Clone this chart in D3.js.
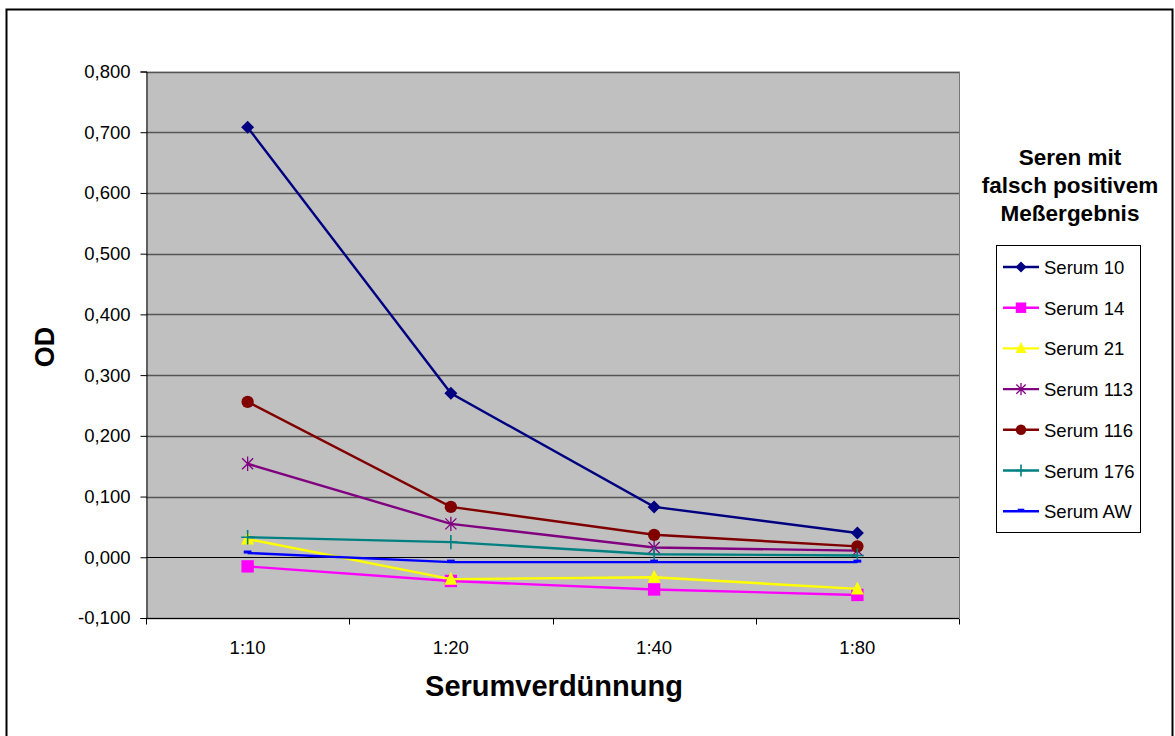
<!DOCTYPE html>
<html>
<head>
<meta charset="utf-8">
<script src="https://cdn.jsdelivr.net/npm/d3@7"></script>
<style>
  body { margin: 0; background: #fff; }
  svg { display: block; font-family: Arial, "Liberation Sans", sans-serif; }
</style>
</head>
<body>
<svg id="chart" width="1175" height="736"></svg>
<script>
// chart data
const dilutions = ["1:10", "1:20", "1:40", "1:80"];
const seriesNames = ["Serum 10", "Serum 14", "Serum 21", "Serum 113", "Serum 116", "Serum 176", "Serum AW"];
const serum10 = [0.708, 0.270, 0.083, 0.040];
const serum14 = [-0.015, -0.039, -0.053, -0.062];
const serum21 = [0.030, -0.036, -0.033, -0.052];
const serum113 = [0.154, 0.055, 0.016, 0.011];
const serum116 = [0.256, 0.083, 0.037, 0.018];
const serum176 = [0.033, 0.025, 0.005, 0.003];
const serumAW = [0.007, -0.008, -0.008, -0.008];
const yTicks = [-0.1, 0, 0.1, 0.2, 0.3, 0.4, 0.5, 0.6, 0.7, 0.8];

const colors = ["#000080", "#FF00FF", "#FFFF00", "#800080", "#800000", "#008080", "#0000FF"];
const shapes = ["diamond", "square", "triangle", "asterisk", "circle", "plus", "dash"];
const allValues = [serum10, serum14, serum21, serum113, serum116, serum176, serumAW];

const series = seriesNames.map((name, i) => ({
    name: name,
    color: colors[i],
    shape: shapes[i],
    values: allValues[i]
}));

const svg = d3.select("#chart");

// outer frame
svg.append("rect")
    .attr("x", 6.5).attr("y", 9.5)
    .attr("width", 1166).attr("height", 740)
    .attr("fill", "none")
    .attr("stroke", "#000")
    .attr("stroke-width", 2);

const plot = { left: 146, right: 959, top: 71.5, bottom: 618 };

const x = d3.scaleBand()
    .domain(dilutions)
    .range([plot.left, plot.right]);

const y = d3.scaleLinear()
    .domain([-0.1, 0.8])
    .range([plot.bottom, plot.top]);

// plot background
svg.append("rect")
    .attr("x", plot.left).attr("y", plot.top)
    .attr("width", plot.right - plot.left)
    .attr("height", plot.bottom - plot.top)
    .attr("fill", "#C0C0C0");

// gridlines
svg.append("g")
    .selectAll("line")
    .data(yTicks)
    .enter()
    .append("line")
    .attr("x1", plot.left).attr("x2", plot.right)
    .attr("y1", d => Math.round(y(d)) + 0.5)
    .attr("y2", d => Math.round(y(d)) + 0.5)
    .attr("stroke", d => d === 0 ? "#000" : "#555")
    .attr("stroke-width", d => d === 0 ? 1 : 1.5);

// right border of plot area
svg.append("line")
    .attr("x1", plot.right + 0.5).attr("x2", plot.right + 0.5)
    .attr("y1", plot.top).attr("y2", plot.bottom)
    .attr("stroke", "#777");

const fmt = d => d3.format(".3f")(d).replace(".", ",").replace("−", "-");

// y axis
const yAxis = svg.append("g")
    .attr("transform", `translate(${plot.left + 0.5},0)`)
    .call(d3.axisLeft(y).tickValues(yTicks).tickFormat(fmt).tickSize(6).tickPadding(10));
yAxis.select(".domain").attr("stroke", "#000");
yAxis.selectAll("text").attr("font-size", 18.5).attr("fill", "#000")
    .attr("font-family", "Arial, 'Liberation Sans', sans-serif");

// x axis (ticks between categories)
const xAxis = svg.append("g")
    .attr("transform", `translate(0,${plot.bottom + 0.5})`);
xAxis.append("line")
    .attr("x1", plot.left).attr("x2", plot.right)
    .attr("stroke", "#000");
xAxis.selectAll(".tick")
    .data(dilutions.concat(["end"]))
    .enter()
    .append("line")
    .attr("x1", (d, i) => Math.round(plot.left + i * x.bandwidth()) + 0.5)
    .attr("x2", (d, i) => Math.round(plot.left + i * x.bandwidth()) + 0.5)
    .attr("y1", 0).attr("y2", 6)
    .attr("stroke", "#000");
xAxis.selectAll(".lbl")
    .data(dilutions)
    .enter()
    .append("text")
    .attr("x", d => x(d) + x.bandwidth() / 2)
    .attr("y", 35)
    .attr("text-anchor", "middle")
    .attr("font-size", 18.5)
    .text(d => d);

// axis titles
svg.append("text")
    .attr("x", 554).attr("y", 696)
    .attr("text-anchor", "middle")
    .attr("font-size", 29)
    .attr("font-weight", "bold")
    .text("Serumverdünnung");

svg.append("text")
    .attr("transform", "translate(54,347) rotate(-90)")
    .attr("text-anchor", "middle")
    .attr("font-size", 27)
    .attr("font-weight", "bold")
    .text("OD");

// marker drawing
function drawMarker(g, shape, color, s) {
    if (shape === "diamond") {
        g.append("path").attr("d", `M0,${-s}L${s},0L0,${s}L${-s},0Z`).attr("fill", color);
    } else if (shape === "square") {
        const h = s * 0.95;
        g.append("rect").attr("x", -h).attr("y", -h).attr("width", 2 * h).attr("height", 2 * h).attr("fill", color);
    } else if (shape === "triangle") {
        g.append("path").attr("d", `M0,${-s * 1.15}L${s},${s * 0.85}L${-s},${s * 0.85}Z`).attr("fill", color);
    } else if (shape === "circle") {
        g.append("circle").attr("r", s * 0.95).attr("fill", color);
    } else if (shape === "asterisk") {
        const a = s * 0.85;
        g.append("path")
            .attr("d", `M${-a},${-a}L${a},${a}M${-a},${a}L${a},${-a}M0,${-s * 1.1}L0,${s * 1.1}`)
            .attr("stroke", color).attr("stroke-width", 1.3).attr("fill", "none");
    } else if (shape === "plus") {
        g.append("path")
            .attr("d", `M0,${-s * 1.1}L0,${s * 1.1}M${-s},0L${s},0`)
            .attr("stroke", color).attr("stroke-width", 1.6).attr("fill", "none");
    } else if (shape === "dash") {
        g.append("path")
            .attr("d", `M${-s * 0.6},-1L${s * 0.6},-1`)
            .attr("stroke", color).attr("stroke-width", 3).attr("fill", "none");
    }
}

// lines and markers
const line = d3.line()
    .x((d, i) => x(dilutions[i]) + x.bandwidth() / 2)
    .y(d => y(d));

series.forEach(s => {
    const g = svg.append("g");
    g.append("path")
        .datum(s.values)
        .attr("d", line)
        .attr("fill", "none")
        .attr("stroke", s.color)
        .attr("stroke-width", 2.4);
    g.selectAll(".pt")
        .data(s.values)
        .enter()
        .append("g")
        .attr("transform", (d, i) => `translate(${x(dilutions[i]) + x.bandwidth() / 2},${y(d)})`)
        .each(function () { drawMarker(d3.select(this), s.shape, s.color, 6.5); });
});

// legend title
const titleLines = ["Seren mit", "falsch positivem", "Meßergebnis"];
svg.append("g")
    .selectAll("text")
    .data(titleLines)
    .enter()
    .append("text")
    .attr("x", 1070)
    .attr("y", (d, i) => 165 + i * 28)
    .attr("text-anchor", "middle")
    .attr("font-size", 22.5)
    .attr("font-weight", "bold")
    .text(d => d);

// legend box
svg.append("rect")
    .attr("x", 996.5).attr("y", 245.5)
    .attr("width", 144).attr("height", 287)
    .attr("fill", "#fff")
    .attr("stroke", "#000");

const legend = svg.append("g")
    .selectAll("g")
    .data(series)
    .enter()
    .append("g")
    .attr("transform", (d, i) => `translate(1003,${267 + i * 40.7})`);

legend.append("line")
    .attr("x1", 0).attr("x2", 36)
    .attr("stroke", d => d.color)
    .attr("stroke-width", 2.4);
legend.append("g")
    .attr("transform", "translate(18,0)")
    .each(function (d) { drawMarker(d3.select(this), d.shape, d.color, 5.5); });
legend.append("text")
    .attr("x", 41)
    .attr("y", 7)
    .attr("font-size", 18.5)
    .text(d => d.name);
</script>
</body>
</html>
